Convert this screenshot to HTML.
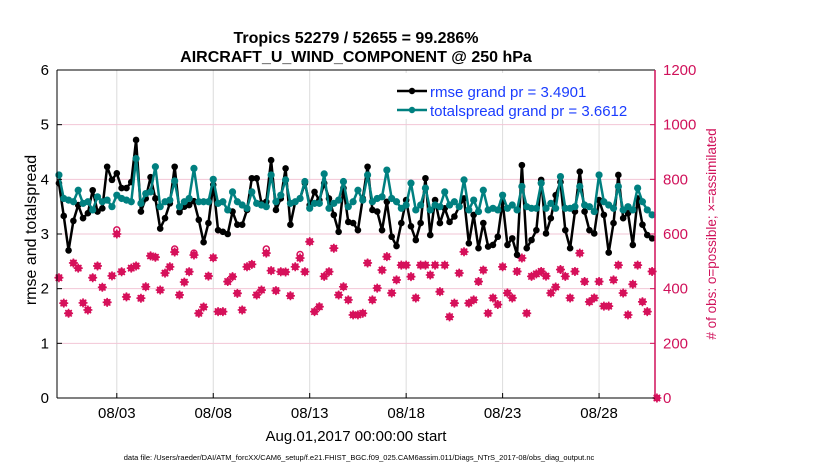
<!DOCTYPE html>
<html><head><meta charset="utf-8">
<style>
html,body{margin:0;padding:0;background:#fff;}
body{width:830px;height:470px;overflow:hidden;font-family:"Liberation Sans",Arial,sans-serif;}
svg text{font-family:"Liberation Sans",Arial,sans-serif;}
</style></head>
<body>
<svg id="chart" width="830" height="470" viewBox="0 0 830 470" xmlns="http://www.w3.org/2000/svg">
  <rect x="0" y="0" width="830" height="470" fill="#fff"/>
  <text x="356" y="43" text-anchor="middle" font-size="16" font-weight="bold">Tropics 52279 / 52655 = 99.286%</text>
  <text x="356" y="62" text-anchor="middle" font-size="16" font-weight="bold">AIRCRAFT_U_WIND_COMPONENT @ 250 hPa</text>
  <g id="grid"></g>
  <g id="counts"></g>
  <g id="series"></g>
  <g id="axes"></g>
  <text transform="translate(36,230) rotate(-90)" text-anchor="middle" font-size="16">rmse and totalspread</text>
  <text transform="translate(716,234) rotate(-90)" text-anchor="middle" font-size="13.5" fill="#d0115a"># of obs: o=possible; ×=assimilated</text>
  <text x="356" y="441" text-anchor="middle" font-size="15">Aug.01,2017 00:00:00 start</text>
  <text x="359" y="460" text-anchor="middle" font-size="7.5">data file: /Users/raeder/DAI/ATM_forcXX/CAM6_setup/f.e21.FHIST_BGC.f09_025.CAM6assim.011/Diags_NTrS_2017-08/obs_diag_output.nc</text>
  <g>
    <rect x="386" y="73" width="264" height="46" fill="#fff"/>
    <line x1="397" y1="91" x2="427" y2="91" stroke="#000" stroke-width="2.5"/>
    <circle cx="412" cy="91" r="3.2" fill="#000"/>
    <text x="430" y="97" font-size="15" fill="#1a3cff">rmse grand pr = 3.4901</text>
    <line x1="397" y1="110" x2="427" y2="110" stroke="#008080" stroke-width="2.5"/>
    <circle cx="412" cy="110" r="3.2" fill="#008080"/>
    <text x="430" y="116" font-size="15" fill="#1a3cff">totalspread grand pr = 3.6612</text>
  </g>
</svg>
<script>
const rmse = [3.93,3.33,2.7,3.24,3.53,3.29,3.38,3.8,3.41,3.47,4.23,3.99,4.11,3.84,3.84,3.95,4.72,3.41,3.65,4.04,3.65,3.1,3.29,3.56,4.23,3.4,3.5,3.53,3.6,3.26,2.85,3.2,
3.9,3.07,3.04,3.0,3.41,3.17,3.17,3.44,4.02,4.02,3.56,3.59,4.35,3.44,3.65,4.2,3.17,3.59,3.65,3.93,3.53,3.77,3.62,3.93,3.65,3.35,3.04,3.84,3.22,3.2,
3.07,3.65,4.23,3.44,3.41,3.07,3.59,2.95,2.78,3.2,3.62,3.14,2.89,3.2,4.02,2.98,3.62,3.2,3.47,3.22,3.32,3.5,3.65,2.83,3.35,2.74,3.2,2.77,2.8,2.95,3.59,2.8,
2.92,2.62,4.26,2.74,2.89,3.07,3.99,3.01,3.29,3.71,3.95,3.07,2.74,3.41,4.14,3.41,3.07,3.01,3.62,3.35,2.66,3.2,4.08,3.29,3.38,2.8,3.65,3.17,2.98,2.92];
const spread = [4.08,3.65,3.62,3.59,3.8,3.56,3.59,3.44,3.68,3.59,3.62,3.5,3.71,3.65,3.62,3.59,4.38,3.56,3.74,3.77,4.23,3.5,3.59,3.62,3.97,3.5,3.59,3.65,4.2,3.59,3.59,3.59,
4.0,3.56,3.59,3.44,3.77,3.59,3.53,3.47,3.77,3.56,3.53,3.5,4.08,3.59,3.71,3.99,3.56,3.59,3.65,3.96,3.47,3.56,3.56,4.1,3.47,3.56,3.62,3.96,3.5,3.59,
3.8,3.62,4.08,3.59,3.65,3.68,4.17,3.65,3.59,3.47,3.53,3.93,3.44,3.53,3.84,3.44,3.53,3.5,3.77,3.53,3.59,3.5,3.99,3.44,3.62,3.41,3.8,3.44,3.47,3.44,3.71,3.47,
3.53,3.44,3.87,3.5,3.47,3.47,3.93,3.47,3.56,3.47,4.05,3.47,3.47,3.5,3.87,3.53,3.5,3.41,4.08,3.59,3.53,3.47,3.87,3.44,3.5,3.44,3.84,3.59,3.44,3.35];
const assimilated = [440,347,310,494,475,348,322,440,483,405,350,447,600,462,370,475,483,365,407,520,515,395,457,480,534,377,424,462,523,310,333,446,
513,316,316,426,444,383,322,480,489,377,395,530,466,393,462,461,374,480,512,462,572,316,334,445,462,548,377,407,359,304,
304,310,494,359,402,468,517,384,432,486,486,444,366,486,486,450,486,389,486,297,347,457,535,347,359,426,468,310,366,342,480,
384,366,463,512,310,445,454,463,446,384,406,470,445,366,463,530,426,352,366,426,336,336,432,486,384,304,416,486,352,316,463,0];
const possible = [440,347,310,494,475,348,322,440,483,405,350,447,615,462,370,475,483,365,407,520,515,395,457,480,545,377,424,462,530,310,333,446,
513,316,316,426,444,383,322,480,489,377,395,545,466,393,462,461,374,480,525,462,572,316,334,445,462,548,377,407,359,304,
304,310,494,359,402,468,517,384,432,486,486,444,366,486,486,450,486,389,486,297,347,457,535,347,359,426,468,310,366,342,480,
384,366,463,512,310,445,454,463,446,384,406,470,445,366,463,530,426,352,366,426,336,336,432,486,384,304,416,486,352,316,463,0];
const xTickDays = [3,8,13,18,23,28];
const xTickLabels = ["08/03","08/08","08/13","08/18","08/23","08/28"];
const leftTicks = [0,1,2,3,4,5,6];
const rightTicks = [0,200,400,600,800,1000,1200];

const NS="http://www.w3.org/2000/svg";
const L=57,R=655,T=70,B=398;
const tMin=-0.1,tMax=30.9;
const x=t=>L+(t-tMin)/(tMax-tMin)*(R-L);
const yL=v=>B-v/6*(B-T);
const yR=v=>B-v/1200*(B-T);
function mk(tag,attrs,parent){const e=document.createElementNS(NS,tag);for(const k in attrs)e.setAttribute(k,attrs[k]);parent.appendChild(e);return e;}
const grid=document.getElementById('grid'),axes=document.getElementById('axes'),ser=document.getElementById('series'),cnt=document.getElementById('counts');

xTickDays.forEach((d,i)=>{
  const g=mk('line',{x1:x(d),x2:x(d),y1:T,y2:B,stroke:'#dcdcdc','stroke-width':1},grid);
  
  
  const tk=mk('line',{x1:x(d),x2:x(d),y1:B,y2:B-5,stroke:'#000','stroke-width':1},axes);
  
  
  const tx=mk('text',{x:x(d),y:B+20,'text-anchor':'middle','font-size':15},axes);
  tx.textContent=xTickLabels[i];
  
  
});
leftTicks.forEach(v=>{
  if(v>0&&v<6){
    const g=mk('line',{x1:L,x2:R,y1:yL(v),y2:yL(v),stroke:'#f2c6d6','stroke-width':1},grid);
    
    
  }
  const tk=mk('line',{x1:L,x2:L+5,y1:yL(v),y2:yL(v),stroke:'#000'},axes);
  
  
  const tx=mk('text',{x:L-8,y:yL(v)+5,'text-anchor':'end','font-size':15},axes);
  tx.textContent=v;
  
  
});
rightTicks.forEach(v=>{
  const tk=mk('line',{x1:R-5,x2:R,y1:yR(v),y2:yR(v),stroke:'#d0115a'},axes);
  
  
  const tx=mk('text',{x:R+8,y:yR(v)+5,'text-anchor':'start','font-size':15,fill:'#d0115a'},axes);
  tx.textContent=v;
  
  
});
const ax1=mk('line',{x1:L,x2:L,y1:T,y2:B,stroke:'#000','stroke-width':1},axes);


const ax2=mk('line',{x1:L,x2:R,y1:B,y2:B,stroke:'#000','stroke-width':1},axes);


const ax3=mk('line',{x1:L,x2:R,y1:T,y2:T,stroke:'#000','stroke-width':1},axes);


const ax4=mk('line',{x1:R,x2:R,y1:T,y2:B,stroke:'#d0115a','stroke-width':1.5},axes);



const red='#d6105a';
possible.forEach((v,i)=>{
  const cx=x(i/4);
  if(v!==assimilated[i]){
    const c=mk('circle',{cx:cx,cy:yR(v),r:3,fill:'none',stroke:red,'stroke-width':1.5},cnt);
    
    
  }
});
assimilated.forEach((v,i)=>{
  const cx=x(i/4),cy=yR(v);
  const g=mk('g',{},cnt);
  
  
  mk('circle',{cx:cx,cy:cy,r:2.8,fill:'none',stroke:red,'stroke-width':1.5},g);
  mk('path',{d:`M${cx-4.5} ${cy}H${cx+4.5}M${cx} ${cy-4.5}V${cy+4.5}M${cx-3.2} ${cy-3.2}L${cx+3.2} ${cy+3.2}M${cx-3.2} ${cy+3.2}L${cx+3.2} ${cy-3.2}`,stroke:red,'stroke-width':1.6},g);
});

function drawSeries(arr,color,name,r){
  const pts=arr.map((v,i)=>x(i/4).toFixed(2)+','+yL(v).toFixed(2)).join(' ');
  const pl=mk('polyline',{points:pts,fill:'none',stroke:color,'stroke-width':2.5,'stroke-linejoin':'round'},ser);
  
  
  arr.forEach((v,i)=>{
    const c=mk('circle',{cx:x(i/4),cy:yL(v),r:r,fill:color},ser);
    
    
  });
}
drawSeries(rmse,'#000','rmse',3.3);
drawSeries(spread,'#008080','totalspread',3.6);
</script>
</body></html>
